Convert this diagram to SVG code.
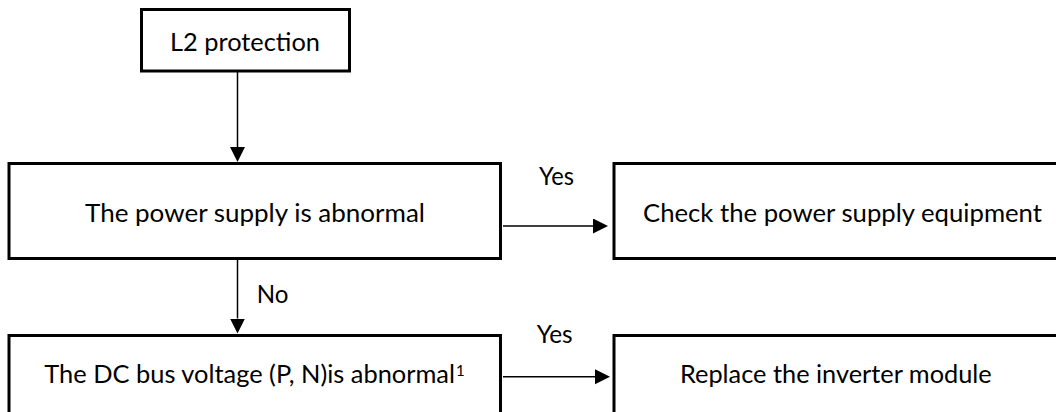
<svg xmlns="http://www.w3.org/2000/svg" width="1056" height="412" viewBox="0 0 1056 412">
  <style>
    .box { fill: #ffffff; stroke: #000000; stroke-width: 3; }
    .lbl { font-family: Lato, "Liberation Sans", sans-serif; font-size: 25.5px; fill: #000000; }
    .edge { stroke: #000000; stroke-width: 1.5; fill: none; marker-end: url(#arrow); }
  </style>
  <defs>
    <marker id="arrow" markerUnits="userSpaceOnUse" markerWidth="16" markerHeight="16" refX="0" refY="7.5" orient="auto">
      <path d="M0,0 L15,7.5 L0,15 Z" fill="#000000"/>
    </marker>
  </defs>
  <rect width="1056" height="412" fill="#ffffff"/>

  <g id="connectors">
    <line class="edge" x1="237.5" y1="71" x2="237.5" y2="147"/>
    <line class="edge" x1="237.5" y1="259" x2="237.5" y2="318.5"/>
    <line class="edge" x1="503" y1="226" x2="593" y2="226"/>
    <line class="edge" x1="503" y1="376.7" x2="595" y2="376.7"/>
    <text class="lbl" x="539" y="185" textLength="35" lengthAdjust="spacingAndGlyphs">Yes</text>
    <text class="lbl" x="256.7" y="303.3" textLength="31.7" lengthAdjust="spacingAndGlyphs">No</text>
    <text class="lbl" x="536.7" y="343.3" textLength="36" lengthAdjust="spacingAndGlyphs">Yes</text>
  </g>

  <g id="node-l2">
    <rect class="box" x="141.5" y="9.5" width="208" height="61.5"/>
    <text class="lbl" x="170" y="50.7" textLength="150" lengthAdjust="spacingAndGlyphs">L2 protection</text>
  </g>

  <g id="node-power">
    <rect class="box" x="9" y="163.5" width="491.5" height="95"/>
    <text class="lbl" x="85" y="221.7" textLength="340" lengthAdjust="spacingAndGlyphs">The power supply is abnormal</text>
  </g>

  <g id="node-check">
    <rect class="box" x="614" y="163.5" width="460" height="95"/>
    <text class="lbl" x="643" y="221.7" textLength="399" lengthAdjust="spacingAndGlyphs">Check the power supply equipment</text>
  </g>

  <g id="node-dc">
    <rect class="box" x="9" y="335.5" width="491.5" height="95"/>
    <text class="lbl" x="44.3" y="383.3"><tspan textLength="410.7" lengthAdjust="spacingAndGlyphs">The DC bus voltage (P, N)is abnormal</tspan><tspan x="456" y="376" font-size="15">1</tspan></text>
  </g>

  <g id="node-replace">
    <rect class="box" x="614" y="335.5" width="460" height="95"/>
    <text class="lbl" x="680" y="383.3" textLength="311.7" lengthAdjust="spacingAndGlyphs">Replace the inverter module</text>
  </g>
</svg>
